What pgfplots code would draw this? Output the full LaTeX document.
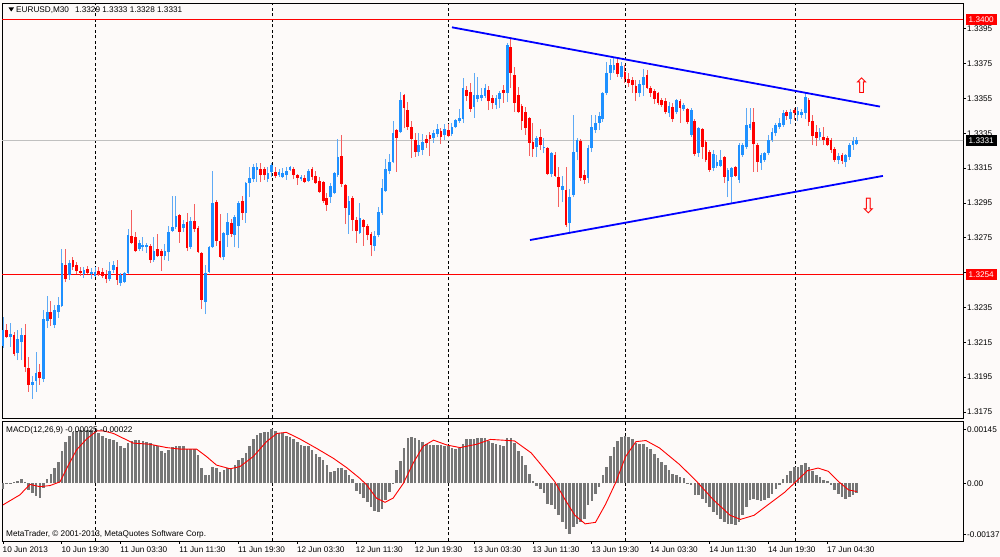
\documentclass[border=0pt]{standalone}
\usepackage{fontspec}
\setmainfont{Liberation Sans}
\newfontfamily\dejavu{DejaVu Sans}
\usepackage{pgfplots}
\pgfplotsset{compat=1.18}
\usepackage{pgfplotstable}
\newcommand\lab{\fontsize{8.2bp}{9.5bp}\selectfont}
\definecolor{bgc}{RGB}{253,250,249}
\definecolor{bullc}{RGB}{30,144,255}
\definecolor{bullw}{RGB}{95,170,245}
\definecolor{bearc}{RGB}{255,0,0}
\definecolor{bearw}{RGB}{245,95,95}
\definecolor{macdg}{RGB}{118,118,118}
\definecolor{bidg}{RGB}{192,192,192}

\pgfplotstableread{
i o h l c
0 1.32129 1.32295 1.32117 1.32221
2 1.32180 1.32261 1.32123 1.32198
4 1.32089 1.32221 1.32048 1.32169
5 1.32152 1.32232 1.32048 1.32192
8 1.31905 1.31957 1.31825 1.31922
9 1.31928 1.32094 1.31865 1.31974
11 1.31939 1.32335 1.31922 1.32284
12 1.32272 1.32416 1.32232 1.32324
14 1.32249 1.32364 1.32232 1.32335
15 1.32324 1.32410 1.32290 1.32364
16 1.32358 1.32686 1.32353 1.32605
18 1.32536 1.32622 1.32508 1.32605
22 1.32542 1.32582 1.32519 1.32565
24 1.32542 1.32577 1.32513 1.32554
25 1.32531 1.32582 1.32525 1.32554
29 1.32513 1.32611 1.32502 1.32559
30 1.32565 1.32617 1.32548 1.32594
32 1.32490 1.32548 1.32473 1.32536
33 1.32496 1.32554 1.32490 1.32548
34 1.32548 1.32800 1.32542 1.32766
37 1.32686 1.32737 1.32674 1.32720
38 1.32697 1.32754 1.32674 1.32709
39 1.32697 1.32720 1.32663 1.32709
41 1.32622 1.32754 1.32611 1.32674
44 1.32645 1.32714 1.32622 1.32674
45 1.32668 1.32818 1.32617 1.32783
46 1.32789 1.32990 1.32783 1.32812
47 1.32812 1.32990 1.32800 1.32875
49 1.32806 1.32852 1.32783 1.32829
51 1.32697 1.32869 1.32686 1.32846
55 1.32381 1.32594 1.32312 1.32548
56 1.32554 1.32703 1.32548 1.32697
57 1.32697 1.33133 1.32691 1.32950
60 1.32640 1.32783 1.32622 1.32777
61 1.32766 1.32892 1.32697 1.32841
63 1.32766 1.32881 1.32697 1.32869
64 1.32818 1.32961 1.32691 1.32950
66 1.32892 1.33070 1.32835 1.33064
67 1.33064 1.33156 1.32984 1.33093
68 1.33087 1.33173 1.33070 1.33156
69 1.33139 1.33179 1.33070 1.33156
72 1.33087 1.33156 1.33070 1.33122
73 1.33128 1.33179 1.33099 1.33168
75 1.33110 1.33145 1.33099 1.33128
76 1.33099 1.33151 1.33093 1.33122
77 1.33110 1.33156 1.33082 1.33133
78 1.33139 1.33162 1.33133 1.33156
81 1.33087 1.33110 1.33076 1.33099
83 1.33076 1.33145 1.33070 1.33133
89 1.32984 1.33064 1.32950 1.33047
90 1.33007 1.33128 1.33001 1.33122
91 1.33110 1.33317 1.33099 1.33214
94 1.32881 1.32990 1.32772 1.32961
97 1.32777 1.32950 1.32772 1.32864
101 1.32703 1.32789 1.32674 1.32760
102 1.32766 1.32927 1.32754 1.32898
103 1.32892 1.33087 1.32881 1.33036
104 1.33018 1.33202 1.33013 1.33145
105 1.33133 1.33231 1.33116 1.33185
106 1.33185 1.33420 1.33179 1.33351
108 1.33357 1.33587 1.33351 1.33541
113 1.33242 1.33351 1.33219 1.33282
114 1.33254 1.33346 1.33225 1.33300
117 1.33323 1.33369 1.33294 1.33351
118 1.33346 1.33403 1.33328 1.33374
120 1.33340 1.33403 1.33311 1.33374
122 1.33346 1.33409 1.33334 1.33386
123 1.33386 1.33432 1.33380 1.33426
124 1.33420 1.33489 1.33409 1.33438
125 1.33432 1.33667 1.33409 1.33610
128 1.33501 1.33696 1.33438 1.33569
129 1.33547 1.33673 1.33529 1.33569
130 1.33552 1.33610 1.33535 1.33569
131 1.33564 1.33633 1.33552 1.33610
134 1.33512 1.33569 1.33489 1.33552
135 1.33547 1.33592 1.33495 1.33581
137 1.33581 1.33868 1.33529 1.33857
145 1.33271 1.33334 1.33214 1.33323
147 1.33265 1.33323 1.33237 1.33271
149 1.33116 1.33242 1.33099 1.33237
152 1.33024 1.33105 1.32955 1.33047
154 1.32835 1.33030 1.32783 1.32984
155 1.32996 1.33455 1.32984 1.33242
156 1.33242 1.33323 1.33196 1.33311
159 1.33093 1.33282 1.33064 1.33265
160 1.33265 1.33455 1.33242 1.33386
161 1.33369 1.33455 1.33351 1.33409
162 1.33409 1.33472 1.33369 1.33449
163 1.33432 1.33587 1.33415 1.33581
164 1.33581 1.33759 1.33569 1.33696
165 1.33696 1.33776 1.33656 1.33742
166 1.33713 1.33788 1.33696 1.33742
168 1.33673 1.33759 1.33662 1.33736
173 1.33581 1.33656 1.33558 1.33633
174 1.33627 1.33719 1.33564 1.33673
181 1.33466 1.33529 1.33443 1.33506
183 1.33472 1.33547 1.33460 1.33541
185 1.33489 1.33524 1.33478 1.33512
187 1.33340 1.33495 1.33328 1.33483
189 1.33237 1.33386 1.33214 1.33380
193 1.33151 1.33254 1.33133 1.33231
194 1.33162 1.33225 1.33151 1.33185
195 1.33162 1.33254 1.33156 1.33196
197 1.33076 1.33151 1.32984 1.33139
198 1.33099 1.33156 1.32950 1.33151
200 1.33082 1.33294 1.33064 1.33282
201 1.33225 1.33294 1.33214 1.33282
202 1.33271 1.33495 1.33260 1.33397
203 1.33380 1.33495 1.33369 1.33403
206 1.33179 1.33237 1.33139 1.33225
207 1.33196 1.33242 1.33185 1.33237
208 1.33237 1.33340 1.33225 1.33311
209 1.33311 1.33380 1.33300 1.33357
210 1.33351 1.33409 1.33334 1.33397
211 1.33386 1.33438 1.33374 1.33409
212 1.33397 1.33483 1.33386 1.33466
214 1.33432 1.33489 1.33403 1.33472
216 1.33455 1.33501 1.33420 1.33478
217 1.33455 1.33489 1.33438 1.33472
218 1.33466 1.33581 1.33432 1.33558
222 1.33328 1.33380 1.33311 1.33357
227 1.33196 1.33237 1.33173 1.33219
229 1.33185 1.33231 1.33156 1.33225
230 1.33214 1.33294 1.33196 1.33282
231 1.33282 1.33328 1.33254 1.33306
232 1.33290 1.33330 1.33280 1.33310
}\bull

\pgfplotstableread{
i o h l c
1 1.32221 1.32255 1.32175 1.32180
3 1.32192 1.32209 1.32071 1.32083
6 1.32192 1.32255 1.31980 1.32008
7 1.32003 1.32066 1.31865 1.31905
10 1.31980 1.32025 1.31905 1.31945
13 1.32324 1.32387 1.32244 1.32284
17 1.32594 1.32686 1.32496 1.32513
19 1.32622 1.32640 1.32565 1.32582
20 1.32594 1.32611 1.32542 1.32559
21 1.32559 1.32582 1.32531 1.32548
23 1.32571 1.32588 1.32542 1.32548
26 1.32559 1.32582 1.32531 1.32542
27 1.32554 1.32577 1.32519 1.32531
28 1.32542 1.32565 1.32490 1.32513
31 1.32582 1.32622 1.32479 1.32508
35 1.32760 1.32909 1.32714 1.32720
36 1.32754 1.32783 1.32668 1.32674
40 1.32703 1.32714 1.32605 1.32622
42 1.32686 1.32772 1.32640 1.32645
43 1.32674 1.32686 1.32559 1.32645
48 1.32881 1.32886 1.32720 1.32783
50 1.32841 1.32892 1.32674 1.32691
52 1.32846 1.32944 1.32783 1.32800
53 1.32806 1.32818 1.32663 1.32668
54 1.32663 1.32668 1.32341 1.32393
58 1.32955 1.32967 1.32703 1.32732
59 1.32732 1.32886 1.32634 1.32640
62 1.32835 1.32858 1.32754 1.32772
65 1.32961 1.32990 1.32852 1.32892
70 1.33145 1.33179 1.33070 1.33110
71 1.33145 1.33156 1.33082 1.33110
74 1.33128 1.33156 1.33093 1.33105
79 1.33145 1.33156 1.33087 1.33110
80 1.33110 1.33116 1.33053 1.33093
82 1.33093 1.33110 1.33064 1.33070
84 1.33145 1.33156 1.33082 1.33099
85 1.33105 1.33133 1.33059 1.33064
86 1.33076 1.33099 1.33007 1.33013
87 1.33070 1.33076 1.32950 1.32961
88 1.32978 1.33007 1.32904 1.32938
92 1.33219 1.33340 1.33041 1.33059
93 1.33053 1.33059 1.32829 1.32921
95 1.32978 1.32990 1.32789 1.32852
96 1.32852 1.32869 1.32720 1.32789
98 1.32852 1.32858 1.32703 1.32812
99 1.32818 1.32829 1.32737 1.32766
100 1.32772 1.32783 1.32645 1.32709
107 1.33369 1.33374 1.33128 1.33323
109 1.33569 1.33575 1.33380 1.33495
110 1.33483 1.33529 1.33369 1.33386
111 1.33386 1.33420 1.33208 1.33317
112 1.33311 1.33351 1.33214 1.33242
115 1.33317 1.33340 1.33265 1.33294
116 1.33340 1.33357 1.33219 1.33317
119 1.33363 1.33380 1.33288 1.33328
121 1.33369 1.33403 1.33328 1.33334
126 1.33598 1.33621 1.33535 1.33564
127 1.33587 1.33638 1.33472 1.33489
132 1.33598 1.33621 1.33483 1.33535
133 1.33552 1.33569 1.33489 1.33524
136 1.33598 1.33627 1.33524 1.33581
138 1.33845 1.33891 1.33610 1.33696
139 1.33684 1.33730 1.33472 1.33524
140 1.33569 1.33615 1.33466 1.33472
141 1.33506 1.33518 1.33369 1.33420
142 1.33472 1.33501 1.33340 1.33380
143 1.33438 1.33443 1.33219 1.33294
144 1.33300 1.33409 1.33214 1.33260
146 1.33328 1.33374 1.33254 1.33282
148 1.33265 1.33271 1.33110 1.33116
150 1.33225 1.33242 1.33099 1.33105
151 1.33099 1.33156 1.32927 1.33041
153 1.33024 1.33156 1.32812 1.32823
157 1.33306 1.33317 1.33076 1.33093
158 1.33110 1.33139 1.33059 1.33082
167 1.33753 1.33788 1.33673 1.33690
169 1.33702 1.33742 1.33638 1.33661
170 1.33661 1.33696 1.33616 1.33638
171 1.33656 1.33673 1.33581 1.33627
172 1.33621 1.33656 1.33535 1.33581
175 1.33684 1.33713 1.33604 1.33610
176 1.33610 1.33621 1.33558 1.33581
177 1.33592 1.33604 1.33518 1.33547
178 1.33581 1.33587 1.33512 1.33524
179 1.33541 1.33552 1.33501 1.33512
180 1.33535 1.33552 1.33460 1.33472
182 1.33501 1.33524 1.33415 1.33432
184 1.33535 1.33547 1.33409 1.33495
186 1.33489 1.33495 1.33403 1.33415
188 1.33420 1.33432 1.33219 1.33231
190 1.33374 1.33380 1.33202 1.33271
191 1.33300 1.33311 1.33185 1.33196
192 1.33242 1.33254 1.33128 1.33139
196 1.33214 1.33219 1.33064 1.33099
199 1.33156 1.33162 1.33099 1.33105
204 1.33415 1.33495 1.33128 1.33288
205 1.33282 1.33294 1.33128 1.33185
213 1.33472 1.33483 1.33426 1.33449
215 1.33483 1.33495 1.33426 1.33466
219 1.33541 1.33552 1.33392 1.33415
220 1.33420 1.33455 1.33282 1.33334
221 1.33357 1.33397 1.33277 1.33323
223 1.33328 1.33386 1.33282 1.33311
224 1.33323 1.33334 1.33277 1.33282
225 1.33311 1.33323 1.33237 1.33254
226 1.33260 1.33271 1.33185 1.33196
228 1.33225 1.33237 1.33173 1.33191
}\bear

\pgfplotstableread{
i m
0 -0.00015
1 0.00002
2 0.00002
3 0.00004
4 0.00006
5 0.00012
6 0.00003
7 -0.00018
8 -0.00027
9 -0.00033
10 -0.00040
11 -0.00012
12 0.00012
13 0.00024
14 0.00042
15 0.00056
16 0.00087
17 0.00110
18 0.00128
19 0.00137
20 0.00141
21 0.00143
22 0.00143
23 0.00143
24 0.00143
25 0.00139
26 0.00134
27 0.00128
28 0.00121
29 0.00119
30 0.00116
31 0.00112
32 0.00101
33 0.00094
34 0.00108
35 0.00114
36 0.00116
37 0.00116
38 0.00114
39 0.00112
40 0.00108
41 0.00103
42 0.00099
43 0.00087
44 0.00081
45 0.00090
46 0.00097
47 0.00100
48 0.00100
49 0.00100
50 0.00092
51 0.00092
52 0.00092
53 0.00076
54 0.00040
55 0.00022
56 0.00022
57 0.00045
58 0.00042
59 0.00031
60 0.00036
61 0.00040
62 0.00042
63 0.00049
64 0.00063
65 0.00069
66 0.00081
67 0.00101
68 0.00119
69 0.00130
70 0.00134
71 0.00137
72 0.00137
73 0.00145
74 0.00141
75 0.00134
76 0.00134
77 0.00128
78 0.00125
79 0.00119
80 0.00110
81 0.00103
82 0.00099
83 0.00099
84 0.00090
85 0.00078
86 0.00072
87 0.00063
88 0.00049
89 0.00031
90 0.00033
91 0.00040
92 0.00042
93 0.00036
94 0.00022
95 0.00012
96 -0.00022
97 -0.00030
98 -0.00039
99 -0.00051
100 -0.00063
101 -0.00074
102 -0.00078
103 -0.00069
104 -0.00045
105 -0.00024
106 -0.00003
107 0.00036
108 0.00060
109 0.00096
110 0.00121
111 0.00125
112 0.00123
113 0.00116
114 0.00110
115 0.00105
116 0.00103
117 0.00103
118 0.00103
119 0.00103
120 0.00101
121 0.00099
122 0.00094
123 0.00092
124 0.00094
125 0.00105
126 0.00119
127 0.00119
128 0.00120
129 0.00122
130 0.00123
131 0.00121
132 0.00114
133 0.00109
134 0.00105
135 0.00102
136 0.00100
137 0.00123
138 0.00123
139 0.00109
140 0.00088
141 0.00073
142 0.00050
143 0.00025
144 0.00005
145 -0.00006
146 -0.00015
147 -0.00027
148 -0.00055
149 -0.00059
150 -0.00068
151 -0.00086
152 -0.00103
153 -0.00123
154 -0.00137
155 -0.00118
156 -0.00109
157 -0.00103
158 -0.00095
159 -0.00059
160 -0.00048
161 -0.00030
162 -0.00009
163 0.00023
164 0.00045
165 0.00073
166 0.00097
167 0.00114
168 0.00125
169 0.00127
170 0.00125
171 0.00118
172 0.00109
173 0.00106
174 0.00105
175 0.00097
176 0.00091
177 0.00079
178 0.00068
179 0.00057
180 0.00048
181 0.00036
182 0.00025
183 0.00023
184 0.00018
185 0.00014
186 -0.00003
187 -0.00005
188 -0.00032
189 -0.00032
190 -0.00041
191 -0.00052
192 -0.00064
193 -0.00077
194 -0.00086
195 -0.00095
196 -0.00103
197 -0.00109
198 -0.00109
199 -0.00112
200 -0.00103
201 -0.00086
202 -0.00064
203 -0.00045
204 -0.00041
205 -0.00045
206 -0.00048
207 -0.00045
208 -0.00039
209 -0.00030
210 -0.00015
211 -0.00005
212 0.00012
213 0.00023
214 0.00034
215 0.00043
216 0.00045
217 0.00050
218 0.00055
219 0.00043
220 0.00034
221 0.00023
222 0.00018
223 0.00009
224 0.00005
225 -0.00005
226 -0.00018
227 -0.00030
228 -0.00036
229 -0.00041
230 -0.00036
231 -0.00032
232 -0.00025
}\macd

\begin{document}
\begin{tikzpicture}
\fill[bgc] (0,0) rectangle (1000bp,557bp);
% ---------------- main price panel
\begin{axis}[
  at={(2bp,554bp)}, anchor=north west, scale only axis,
  width=961bp, height=415bp,
  xmin=-0.272, xmax=260.87, ymin=1.317155, ymax=1.340976,
  axis background/.style={fill=bgc},
  axis line style={black, line width=0.9bp},
  scaled y ticks=false,
  xtick=\empty,
  extra x ticks={25.136,73.234,121.060,169.160,215.350}, extra x tick labels={},
  extra x tick style={grid=major, major tick length=0pt},
  major grid style={black, line width=1bp, dash pattern=on 3bp off 2.5bp},
  ytick={1.3175,1.3195,1.3215,1.3235,1.3255,1.3275,1.3295,1.3315,1.3335,1.3355,1.3375,1.3395},
  yticklabels={1.3175,1.3195,1.3215,1.3235,1.3255,1.3275,1.3295,1.3315,1.3335,1.3355,1.3375,1.3395},
  ytick pos=right, yticklabel pos=right,
  tick align=outside, major tick length=3bp,
  every tick/.style={black, line width=0.8bp},
  yticklabel style={font=\lab, anchor=west, inner sep=0pt, xshift=1bp},
  /pgf/number format/assume math mode=true,
]
% level lines
\addplot[bearc, line width=1bp] coordinates {(-1,1.3400) (262,1.3400)};
\addplot[bearc, line width=1bp] coordinates {(-1,1.3254) (262,1.3254)};
\addplot[bidg, line width=1bp] coordinates {(-1,1.3331) (262,1.3331)};
% wicks
\addplot[draw=none, forget plot, error bars/.cd, y dir=plus, y explicit, error mark=none,
  error bar style={draw=bullw, line width=1bp, solid}]
  table[x=i, y=l, y error plus expr=\thisrow{h}-\thisrow{l}, y error minus expr=0] {\bull};
\addplot[draw=none, forget plot, error bars/.cd, y dir=plus, y explicit, error mark=none,
  error bar style={draw=bearw, line width=1bp, solid}]
  table[x=i, y=l, y error plus expr=\thisrow{h}-\thisrow{l}, y error minus expr=0] {\bear};
% bodies
\addplot[draw=none, forget plot, error bars/.cd, y dir=plus, y explicit, error mark=none,
  error bar style={draw=bullc, line width=2.7bp, solid}]
  table[x=i, y=o, y error plus expr=\thisrow{c}-\thisrow{o}, y error minus expr=0] {\bull};
\addplot[draw=none, forget plot, error bars/.cd, y dir=plus, y explicit, error mark=none,
  error bar style={draw=bearc, line width=2.7bp, solid}]
  table[x=i, y=c, y error plus expr=\thisrow{o}-\thisrow{c}, y error minus expr=0] {\bear};
% trend lines
\addplot[blue, line width=1.8bp] coordinates {(122.0,1.33958) (238.3,1.33503)};
\addplot[blue, line width=1.8bp] coordinates {(143.2,1.32737) (239.1,1.33105)};
% arrows
\addplot[only marks, mark=text, text mark={\dejavu ⇧}, text mark as node=true,
  text mark style={font=\fontsize{21bp}{21bp}\selectfont, text=bearc, inner sep=0pt}]
  coordinates {(233.3,1.33621)};
\addplot[only marks, mark=text, text mark={\dejavu ⇩}, text mark as node=true,
  text mark style={font=\fontsize{21bp}{21bp}\selectfont, text=bearc, inner sep=0pt}]
  coordinates {(235.2,1.32930)};
\end{axis}
% ---------------- MACD panel
\begin{axis}[
  at={(2bp,136bp)}, anchor=north west, scale only axis,
  width=961bp, height=120bp,
  xmin=-0.272, xmax=260.87, ymin=-0.001551, ymax=0.001675,
  axis background/.style={fill=bgc},
  axis line style={black, line width=0.9bp},
  scaled y ticks=false, scaled x ticks=false,
  xtick={0,16,32,48,64,80,96,112,128,144,160,176,192,208,224},
  xticklabels={10 Jun 2013,10 Jun 19:30,11 Jun 03:30,11 Jun 11:30,11 Jun 19:30,12 Jun 03:30,12 Jun 11:30,12 Jun 19:30,13 Jun 03:30,13 Jun 11:30,13 Jun 19:30,14 Jun 03:30,14 Jun 11:30,14 Jun 19:30,17 Jun 04:30},
  xtick pos=left, xticklabel pos=left,
  extra x ticks={25.136,73.234,121.060,169.160,215.350}, extra x tick labels={},
  extra x tick style={grid=major, major tick length=0pt},
  major grid style={black, line width=1bp, dash pattern=on 3bp off 2.5bp},
  ytick={-0.00137,0,0.00145},
  yticklabels={-0.00137,0.00,0.00145},
  ytick pos=right, yticklabel pos=right,
  tick align=outside, major tick length=3bp,
  every tick/.style={black, line width=0.8bp},
  yticklabel style={font=\lab, anchor=west, inner sep=0pt, xshift=1bp},
  xticklabel style={font=\lab, anchor=north west, inner sep=0pt, xshift=-0.5bp, yshift=-2.5bp},
  /pgf/number format/assume math mode=true,
]
\addplot[ycomb, macdg, line width=2.6bp] table[x=i, y=m] {\macd};
\addplot[bearc, line width=0.9bp] coordinates {
(0,-0.00058) (4.6,-0.00031) (7.3,-0.00003) (10,-0.00009) (12.8,-0.00006) (15.5,0.00004)
(17.3,0.00040) (20,0.00090) (22.7,0.00119) (25.5,0.00141) (27.3,0.00141) (30,0.00134)
(32.7,0.00121) (35.4,0.00108) (39.9,0.00105) (44.5,0.00096) (48.1,0.00092) (52.6,0.00092)
(55.3,0.00072) (58,0.00049) (61.7,0.00039) (64.4,0.00045) (68,0.00072) (71.6,0.00112)
(74.4,0.00134) (77,0.00137) (80.7,0.00119) (85.2,0.00094) (89.8,0.00067) (93.4,0.00042)
(97,0.00013) (98.8,-0.00004) (101.5,-0.00040) (103.8,-0.00051) (106,-0.00040) (108.8,0.00000)
(111.5,0.00055) (114.2,0.00100) (117,0.00116) (120.6,0.00103) (124.2,0.00096) (128.7,0.00105)
(132.5,0.00118) (139,0.00114) (143.5,0.00082) (146.2,0.00050) (149.9,0.00005) (152.8,-0.00045)
(155.4,-0.00086) (158.2,-0.00109) (161,-0.00105) (163.7,-0.00057) (166.4,0.00000) (169.2,0.00072)
(172,0.00112) (174.7,0.00115) (178.4,0.00095) (183.9,0.00050) (188.5,0.00005) (193.1,-0.00045)
(197.6,-0.00086) (200.4,-0.00097) (204.1,-0.00086) (207.7,-0.00059) (212.3,-0.00025) (215,0.00000)
(218.6,0.00034) (221.5,0.00041) (224.3,0.00032) (227,0.00005) (229.8,-0.00018) (232,-0.00022)};
\end{axis}
% ---------------- labels
\fill[black] (8.5bp,549.5bp) -- (14bp,549.5bp) -- (11.25bp,545.5bp) -- cycle;
\node[anchor=west, font=\lab, inner sep=0pt] at (16bp,547.3bp) {EURUSD,M30\hspace{6bp}1.3329 1.3333 1.3328 1.3331};
\node[anchor=west, font=\lab, inner sep=0pt] at (6bp,126.5bp) {MACD(12,26,9) -0.00025 -0.00022};
\node[anchor=west, font=\lab, inner sep=0pt] at (6bp,23bp) {MetaTrader, © 2001-2013, MetaQuotes Software Corp.};
\node[fill=bearc, text=white, font=\lab, anchor=west, minimum width=31bp, minimum height=11bp, inner sep=0pt] at (965.5bp,537bp) {1.3400};
\node[fill=black, text=white, font=\lab, anchor=west, minimum width=31bp, minimum height=11bp, inner sep=0pt] at (965.5bp,416.8bp) {1.3331};
\node[fill=bearc, text=white, font=\lab, anchor=west, minimum width=31bp, minimum height=11bp, inner sep=0pt] at (965.5bp,282.7bp) {1.3254};
\pgfresetboundingbox
\path[use as bounding box] (0,0) rectangle (1000bp,557bp);
\end{tikzpicture}
\end{document}
